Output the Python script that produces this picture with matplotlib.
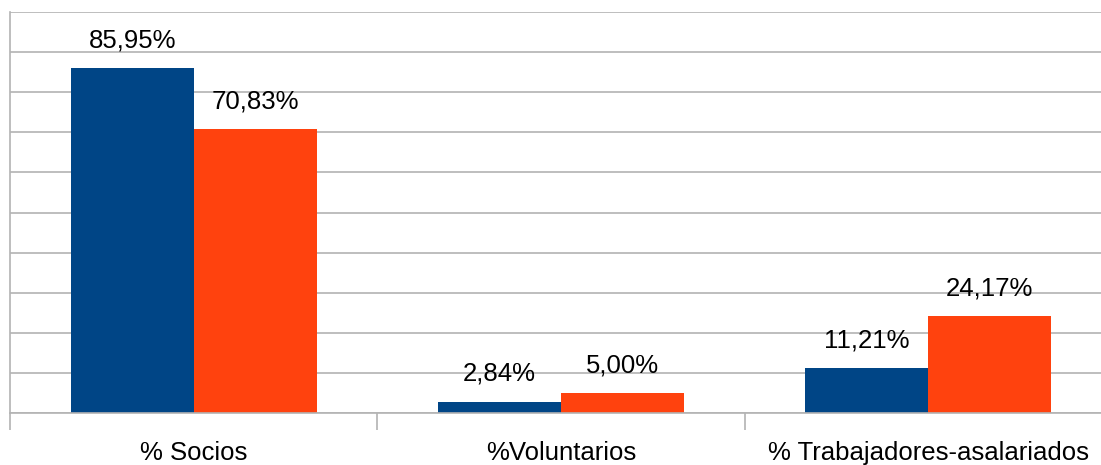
import matplotlib
matplotlib.use("Agg")
import matplotlib.pyplot as plt
import numpy as np

categories = ["% Socios", "%Voluntarios", "% Trabajadores-asalariados"]
series_a = [85.95, 2.84, 11.21]
series_b = [70.83, 5.00, 24.17]
labels_a = ["85,95%", "2,84%", "11,21%"]
labels_b = ["70,83%", "5,00%", "24,17%"]

plt.rcParams["font.family"] = ["Liberation Sans", "DejaVu Sans"]

W, H = 1101, 465
fig = plt.figure(figsize=(W / 100, H / 100), dpi=100)
ax = fig.add_axes([10 / W, (H - 413) / H, 1102 / W, 401 / H])

x = np.arange(len(categories))
bw = 0.335
blue, orange = "#004586", "#ff420e"
grid_c = "#b3b3b3"
fs = 18.5

ax.set_ylim(0, 100)
ax.set_xlim(-0.5, len(categories) - 0.5)
ax.set_yticks(np.arange(0, 101, 10))
ax.yaxis.grid(True, color=grid_c, linewidth=1.2)
ax.set_axisbelow(True)
ax.tick_params(axis="y", length=0, labelleft=False)

ba = ax.bar(x - bw / 2, series_a, bw, color=blue, zorder=2)
bb = ax.bar(x + bw / 2, series_b, bw, color=orange, zorder=2)

for bars, labs in ((ba, labels_a), (bb, labels_b)):
    for r, t in zip(bars, labs):
        ax.annotate(t, (r.get_x() + r.get_width() / 2, r.get_height()),
                    xytext=(0, 15), textcoords="offset points",
                    ha="center", va="baseline", fontsize=fs, color="black")

# category boundary ticks and centred labels
ax.set_xticks(np.arange(-0.5, len(categories), 1.0))
ax.set_xticklabels([])
ax.set_xticks(x, minor=True)
ax.set_xticklabels(categories, minor=True, fontsize=fs)
ax.tick_params(axis="x", which="major", length=12, width=1.2, color=grid_c)
ax.tick_params(axis="x", which="minor", length=0, pad=20)

for s in ("top", "right"):
    ax.spines[s].set_visible(False)
for s in ("left", "bottom"):
    ax.spines[s].set_color(grid_c)
    ax.spines[s].set_linewidth(1.2)

fig.savefig("out.png", dpi=100)
